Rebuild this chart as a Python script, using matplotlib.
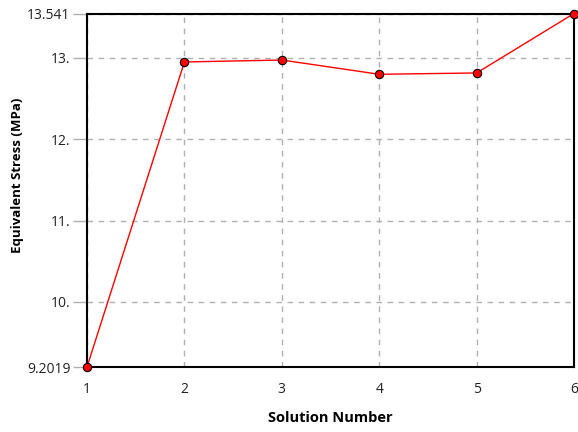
import matplotlib
matplotlib.use("Agg")
import matplotlib.pyplot as plt

solutions = [1, 2, 3, 4, 5, 6]
stress = [9.2019, 12.946, 12.97, 12.795, 12.811, 13.541]
yticks = [9.2019, 10, 11, 12, 13, 13.541]
yticklabels = ["9.2019", "10.", "11.", "12.", "13.", "13.541"]

plt.rcParams['font.family'] = ['Open Sans', 'DejaVu Sans']

fig = plt.figure(figsize=(5.78, 4.32), dpi=100)
ax = fig.add_axes([87/578, 1-367/432, (574-87)/578, (367-13.5)/432])

ax.plot(solutions, stress, color='red', lw=1, marker='o', markersize=6,
        markerfacecolor='red', markeredgecolor='black', markeredgewidth=0.8,
        zorder=5, clip_on=False)

ax.set_xlim(1, 6)
ax.set_ylim(9.2019, 13.541)
ax.set_xticks(solutions)
ax.set_yticks(yticks)
ax.set_yticklabels(yticklabels)

ax.grid(True, color='#b0b0b0', linestyle=(0, (4, 4)), linewidth=1)
ax.tick_params(axis='y', length=10, color='#b0b0b0', width=1, labelsize=10, pad=2, labelcolor='#222222')
ax.tick_params(axis='x', length=0, labelsize=10, pad=11, labelcolor='#222222')
for s in ax.spines.values():
    s.set_linewidth(1.5)
    s.set_color('black')

fig.text(330/578, 1-418/432, 'Solution Number', fontweight='bold', fontsize=10.5,
         ha='center', va='center')
fig.text(18/578, 1-175/432, 'Equivalent Stress (MPa)', fontweight='bold', fontsize=9.5,
         ha='center', va='center', rotation=90)

fig.savefig('out.png', dpi=100)
